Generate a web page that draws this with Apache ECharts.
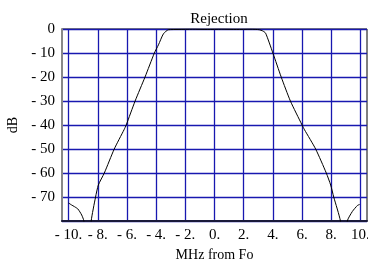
<!DOCTYPE html>
<html>
<head>
<meta charset="utf-8">
<script src="https://cdn.jsdelivr.net/npm/echarts@6/dist/echarts.min.js"></script>
<style>
  html, body { margin: 0; padding: 0; background: #fff; }
  #chart { width: 368px; height: 261px; }
</style>
</head>
<body>
<div id="chart"></div>
<script>
// 频率 (MHz from Fo) 和抑制 (dB)
const freqMHz = [
  -10.0, -9.8, -9.6, -9.36, -9.1, -8.95, -8.8, -8.55, -8.45, -8.15, -7.96, -7.55,
  -6.87, -6.2, -6.05, -5.44, -4.76, -4.12, -3.84, -3.5, -3.15, -2.5, -1.5, -0.5,
  0.5, 1.5, 2.5, 3.07, 3.3, 3.5, 4.0, 4.57, 5.2, 6.0, 6.17, 6.93, 7.66, 7.96, 8.17,
  8.63, 8.8, 8.95, 9.1, 9.45, 9.8, 9.95
];
const rejectionDb = [
  -72.5, -73.3, -74, -75, -77.5, -80, -92, -92, -80, -70, -65, -60,
  -50, -42, -40, -30, -20, -10, -6.6, -2, -0.3, -0.2, -0.1, -0.2,
  -0.1, -0.2, -0.1, -0.3, -0.8, -1.7, -10, -20, -30, -40, -42, -50, -60, -65, -70,
  -80, -92, -92, -80, -76, -73.5, -73.1
];
const xTicks = [-10, -8, -6, -4, -2, 0, 2, 4, 6, 8, 10];
const xTickLabels = ["- 10.", "- 8.", "- 6.", "- 4.", "- 2.", "0.", "2.", "4.", "6.", "8.", "10."];

const font = "Liberation Serif";
const gridColor = "#1818b0"; // 网格线颜色 (深蓝)

const chart = echarts.init(document.getElementById("chart"));
chart.setOption({
  animation: false,
  title: {
    text: "Rejection",
    left: 214,
    textAlign: "center",
    top: 7,
    textStyle: { fontFamily: font, fontSize: 15, fontWeight: "normal", color: "#000" }
  },
  grid: {
    left: 62,
    top: 29,
    right: 1,
    bottom: 40,
    outerBoundsMode: "none", // v6 默认会为标签收缩网格
    containLabel: false,
    show: true,
    borderColor: "#000",
    borderWidth: 1
  },
  xAxis: {
    type: "value",
    min: -10.45,
    max: 10.45,
    name: "MHz from Fo",
    nameLocation: "middle",
    nameGap: 24,
    nameTextStyle: { fontFamily: font, fontSize: 14, color: "#000", verticalAlign: "top" },
    axisLine: { show: true, onZero: false, lineStyle: { color: "#1a1a3a", width: 2 } },
    axisTick: { show: false, customValues: xTicks },
    axisLabel: {
      customValues: xTicks,
      fontFamily: font,
      fontSize: 15,
      color: "#000",
      margin: 7,
      hideOverlap: false,
      formatter: v => xTickLabels[xTicks.indexOf(Math.round(v))] || ""
    },
    splitLine: { show: true, lineStyle: { color: gridColor, width: 1.3 } }
  },
  yAxis: {
    type: "value",
    min: -80,
    max: 0,
    interval: 10,
    name: "dB",
    nameLocation: "middle",
    nameGap: 41,
    nameTextStyle: { fontFamily: font, fontSize: 14, color: "#000" },
    axisLine: { show: true, onZero: false, lineStyle: { color: "#888", width: 2 } },
    axisTick: { show: false },
    axisLabel: {
      fontFamily: font,
      fontSize: 15,
      color: "#000",
      margin: 7,
      formatter: v => (v === -80 ? "" : v === 0 ? "0" : "- " + Math.abs(v))
    },
    splitLine: { show: true, lineStyle: { color: gridColor, width: 1.3 } }
  },
  series: [
    {
      type: "line",
      data: freqMHz.map((f, i) => [f, rejectionDb[i]]),
      showSymbol: false,
      clip: true,
      smooth: 0.2,
      lineStyle: { color: "#000", width: 1 }
    }
  ]
});
</script>
</body>
</html>
